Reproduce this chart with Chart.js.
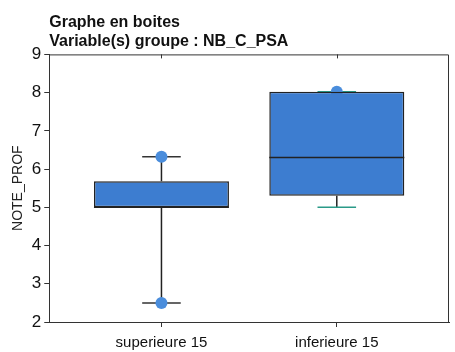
<!DOCTYPE html>
<html>
<head>
<meta charset="utf-8">
<script src="https://cdn.jsdelivr.net/npm/chart.js@4/dist/chart.umd.min.js"></script>
<style>
  html, body { margin: 0; padding: 0; background: #fff; }
  #wrap { width: 455px; height: 352px; }
</style>
</head>
<body>
<div id="wrap"><canvas id="boxChart"></canvas></div>
<script>
// Box plot values
const categories = ['superieure 15', 'inferieure 15'];
const q1 = [5.0, 5.3];
const q3 = [5.68, 8.02];
const medians = [5.0, 6.3];
const whiskerLow = [2.5, 5.0];
const whiskerHigh = [6.32, 8.02];
const extremePoints = [[2.5, 6.32], [8.02]];
const yTicks = [2, 3, 4, 5, 6, 7, 8, 9];

const boxFill = '#3d7dd0';
const dotColor = '#4a8ddc';
const capColors = ['#333333', '#2a9a88'];

const boxData = categories.map((c, i) => ({ x: i + 1, y: [q1[i], q3[i]] }));
const dotData = [];
extremePoints.forEach((pts, i) => pts.forEach(v => dotData.push({ x: i + 1, y: v })));

// whiskers + caps drawn under the boxes, median over them
const boxExtras = {
    id: 'boxExtras',
    beforeDatasetsDraw(chart) {
        const ctx = chart.ctx;
        const xs = chart.scales.x, ys = chart.scales.y;
        ctx.save();
        ctx.lineWidth = 1.5;
        categories.forEach((c, i) => {
            const cx = xs.getPixelForValue(i + 1);
            const capL = xs.getPixelForValue(i + 1 - 0.11);
            const capR = xs.getPixelForValue(i + 1 + 0.11);
            ctx.strokeStyle = '#222';
            ctx.beginPath();
            ctx.moveTo(cx, ys.getPixelForValue(whiskerHigh[i]));
            ctx.lineTo(cx, ys.getPixelForValue(q3[i]));
            ctx.moveTo(cx, ys.getPixelForValue(q1[i]));
            ctx.lineTo(cx, ys.getPixelForValue(whiskerLow[i]));
            ctx.stroke();
            ctx.strokeStyle = capColors[i];
            ctx.beginPath();
            [whiskerHigh[i], whiskerLow[i]].forEach(v => {
                const py = ys.getPixelForValue(v);
                ctx.moveTo(capL, py);
                ctx.lineTo(capR, py);
            });
            ctx.stroke();
        });
        ctx.restore();
    },
    afterDatasetsDraw(chart) {
        const ctx = chart.ctx;
        const xs = chart.scales.x, ys = chart.scales.y;
        const a = chart.chartArea;
        ctx.save();
        ctx.strokeStyle = '#222';
        ctx.lineWidth = 1.5;
        categories.forEach((c, i) => {
            const half = 0.385;
            const py = ys.getPixelForValue(medians[i]);
            ctx.beginPath();
            ctx.moveTo(xs.getPixelForValue(i + 1 - half), py);
            ctx.lineTo(xs.getPixelForValue(i + 1 + half), py);
            ctx.stroke();
        });
        // frame on top and right, with small ticks on top
        ctx.strokeStyle = '#333';
        ctx.lineWidth = 1;
        ctx.beginPath();
        ctx.moveTo(a.left, a.top + 0.5);
        ctx.lineTo(a.right - 0.5, a.top + 0.5);
        ctx.lineTo(a.right - 0.5, a.bottom);
        categories.forEach((c, i) => {
            const px = Math.round(xs.getPixelForValue(i + 1)) + 0.5;
            ctx.moveTo(px, a.top);
            ctx.lineTo(px, a.top + 4);
        });
        ctx.stroke();
        ctx.restore();
    }
};

new Chart(document.getElementById('boxChart'), {
    type: 'bar',
    data: {
        datasets: [{
            type: 'bar',
            data: boxData,
            backgroundColor: boxFill,
            borderColor: '#222',
            borderWidth: 1.5,
            borderSkipped: false,
            barPercentage: 0.77,
            categoryPercentage: 1,
            order: 0
        }, {
            type: 'scatter',
            data: dotData,
            backgroundColor: dotColor,
            borderWidth: 0,
            pointRadius: 6,
            order: 1
        }]
    },
    options: {
        responsive: true,
        maintainAspectRatio: false,
        animation: false,
        layout: { padding: { left: 10, right: 3, top: 0, bottom: -7 } },
        plugins: {
            legend: { display: false },
            tooltip: { enabled: false },
            title: {
                display: true,
                text: ['Graphe en boites', 'Variable(s) groupe : NB_C_PSA'],
                align: 'start',
                fullSize: false,
                color: '#111',
                font: { family: 'Liberation Sans', size: 16, weight: 'bold', lineHeight: 1.2 },
                padding: { top: 13, bottom: 3 }
            }
        },
        scales: {
            x: {
                type: 'linear',
                min: 0.36,
                max: 2.64,
                offset: false,
                afterBuildTicks: axis => { axis.ticks = categories.map((c, i) => ({ value: i + 1 })); },
                grid: { drawOnChartArea: false, offset: false, tickLength: 5, color: '#333' },
                border: { color: '#333', width: 1 },
                ticks: {
                    callback: v => categories[v - 1],
                    color: '#111',
                    font: { family: 'Liberation Sans', size: 15 },
                    padding: 7,
                    maxRotation: 0
                }
            },
            y: {
                min: 2,
                max: 9,
                afterBuildTicks: axis => {
                    const t = [];
                    for (let v = yTicks[0]; v <= yTicks[yTicks.length - 1]; v += 0.5) t.push({ value: v });
                    axis.ticks = t;
                },
                grid: { drawOnChartArea: false, tickLength: 5, color: '#333' },
                border: { color: '#333', width: 1 },
                title: {
                    display: true,
                    text: 'NOTE_PROF',
                    color: '#222',
                    font: { family: 'Liberation Sans', size: 14 },
                    padding: { top: 0, bottom: 2 }
                },
                ticks: {
                    callback: v => (yTicks.includes(v) ? v : ''),
                    color: '#111',
                    font: { family: 'Liberation Sans', size: 17 },
                    padding: 3
                }
            }
        }
    },
    plugins: [boxExtras]
});
</script>
</body>
</html>
